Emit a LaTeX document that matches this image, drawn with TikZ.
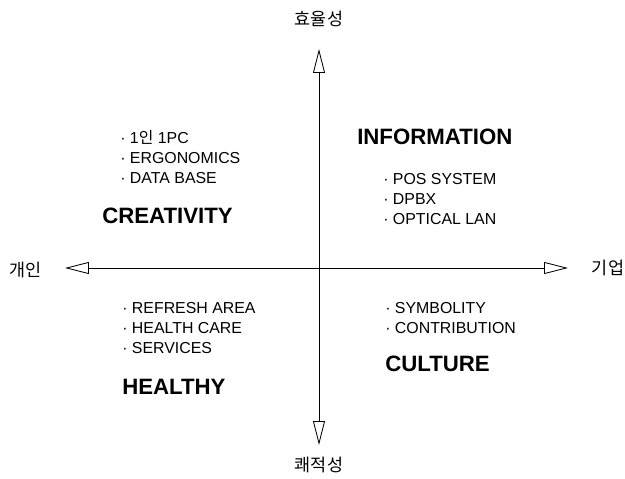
\documentclass[tikz,border=0pt]{standalone}
\usepackage{fontspec}
\setmainfont{Liberation Sans}
\newfontfamily\krfont{Noto Sans CJK KR}
\usetikzlibrary{arrows.meta}

\begin{document}
\begin{tikzpicture}[x=0.025cm,y=0.025cm,
  axis/.style={line width=0.6pt,
    {Triangle[open,length=17pt,width=8.5pt]}-{Triangle[open,length=17pt,width=8.5pt]}},
  axislabel/.style={inner sep=0pt, font=\krfont\fontsize{12.4}{14}\selectfont},
  itemlist/.style={anchor=north west, inner sep=0pt, align=left,
    font=\fontsize{11.3}{14.2}\selectfont},
  quadrant/.style={anchor=west, inner sep=0pt,
    font=\bfseries\fontsize{15.8}{18}\selectfont}]
\useasboundingbox (-319,-211) rectangle (306,268);

% axis ends
\coordinate (top) at (0,219);
\coordinate (bottom) at (0,-177);
\coordinate (left) at (-254,0);
\coordinate (right) at (249,0);

\draw [axis] (bottom) -- (top);
\draw [axis] (left) -- (right);

% axis labels
\node [axislabel] (eff) at (0,249) {효율성};
\node [axislabel] (comfort) at (0,-197) {쾌적성};
\node [axislabel] (person) at (-293,-2) {개인};
\node [axislabel] (firm) at (289,0) {기업};

% upper left
\node [itemlist] (tllist) at (-199,138) {· 1{\krfont 인} 1PC\\· ERGONOMICS\\· DATA BASE};
\node [quadrant] (creat) at (-217,52) {CREATIVITY};

% upper right
\node [quadrant] (info) at (38,131) {INFORMATION};
\node [itemlist] (trlist) at (64,95) {· POS SYSTEM\\· DPBX\\· OPTICAL LAN};

% lower left
\node [itemlist] (bllist) at (-197,-34) {· REFRESH AREA\\· HEALTH CARE\\· SERVICES};
\node [quadrant] (health) at (-197,-119) {HEALTHY};

% lower right
\node [itemlist] (brlist) at (66,-34) {· SYMBOLITY\\· CONTRIBUTION};
\node [quadrant] (cult) at (66,-96) {CULTURE};

\end{tikzpicture}
\end{document}
